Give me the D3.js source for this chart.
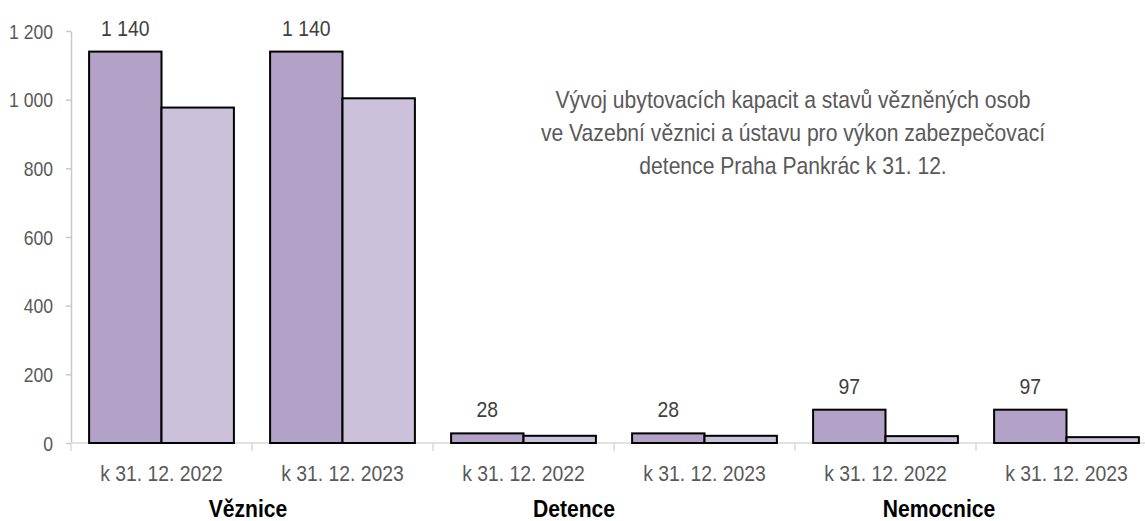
<!DOCTYPE html>
<html lang="cs">
<head>
  <meta charset="UTF-8">
  <title>Pankrác – kapacity</title>
  <script src="https://d3js.org/d3.v7.min.js"></script>
</head>
<body style="margin: 0; padding: 0; background: #ffffff;">
  <svg id="chart" width="1145" height="521"></svg>
  <script>
    // data
    const groups = ["Věznice", "Detence", "Nemocnice"];
    const periods = ["k 31. 12. 2022", "k 31. 12. 2023"];
    const capacity = [1140, 1140, 28, 28, 97, 97];
    const occupancy = [977, 1004, 21, 21, 20, 17];
    const yTicks = [0, 200, 400, 600, 800, 1000, 1200];
    const titleLines = [
      "Vývoj ubytovacích kapacit a stavů vězněných osob",
      "ve Vazební věznici a ústavu pro výkon zabezpečovací",
      "detence Praha Pankrác k 31. 12."
    ];

    const width = 1145, height = 521;
    const sx = 0.88;   // the source font is a little condensed
    const font = "'Liberation Sans', Arial, sans-serif";

    // one row per bar group
    const rows = [];
    groups.forEach((g, gi) => periods.forEach((p, pi) => {
      const i = gi * periods.length + pi;
      rows.push({ id: i, group: g, period: p, capacity: capacity[i], occupancy: occupancy[i] });
    }));

    const svg = d3.select("#chart");
    const locale = d3.formatLocale({ decimal: ",", thousands: " ", grouping: [3], currency: ["", ""] });
    const fmt = locale.format(",d");

    const x0 = d3.scaleBand().domain(rows.map(d => d.id)).range([71, 1157]).padding(0);
    const bw = x0.bandwidth();
    const x1 = d3.scaleBand().domain(["capacity", "occupancy"]).range([bw * 0.1, bw * 0.9]).padding(0);
    const y = d3.scaleLinear().domain([0, 1200]).range([443, 31]);
    const color = d3.scaleOrdinal().domain(["capacity", "occupancy"]).range(["#b3a2c7", "#ccc1da"]);

    // y axis
    const yAxis = svg.append("g")
      .attr("transform", "translate(71,0)")
      .call(d3.axisLeft(y).tickValues(yTicks).tickFormat(fmt).tickSize(5).tickSizeOuter(0));
    yAxis.select(".domain").attr("stroke", "#c9c9c9").attr("stroke-width", 1.5);
    yAxis.selectAll(".tick line").attr("stroke", "#c9c9c9").attr("stroke-width", 1.5);
    yAxis.selectAll(".tick text")
      .attr("x", null)
      .attr("dy", "0.36em")
      .attr("transform", `translate(-18,0) scale(${sx},1)`)
      .attr("fill", "#595959")
      .style("font-family", font)
      .style("font-size", "20px");

    // x axis line and category separators
    const xAxis = svg.append("g");
    xAxis.append("line")
      .attr("x1", x0.range()[0]).attr("x2", x0.range()[1])
      .attr("y1", y(0)).attr("y2", y(0))
      .attr("stroke", "#d9d9d9").attr("stroke-width", 1.5);
    const bounds = rows.map(d => x0(d.id)).concat([x0.range()[1]]);
    xAxis.selectAll("line.sep").data(bounds).enter().append("line")
      .attr("class", "sep")
      .attr("x1", d => d).attr("x2", d => d)
      .attr("y1", y(0)).attr("y2", y(0) + 8)
      .attr("stroke", "#d9d9d9").attr("stroke-width", 1.5);

    // bars
    const cat = svg.append("g").selectAll("g.cat").data(rows).enter().append("g")
      .attr("class", "cat")
      .attr("transform", d => `translate(${x0(d.id)},0)`);

    cat.selectAll("rect")
      .data(d => ["capacity", "occupancy"].map(k => ({ key: k, value: d[k] })))
      .enter().append("rect")
      .attr("x", d => x1(d.key))
      .attr("width", x1.bandwidth())
      .attr("y", d => y(d.value))
      .attr("height", d => y(0) - y(d.value))
      .attr("fill", d => color(d.key))
      .attr("stroke", "#000000")
      .attr("stroke-width", 2);

    // value labels on capacity bars
    cat.append("text")
      .attr("transform", d => `translate(${x1("capacity") + x1.bandwidth() / 2},${y(d.capacity) - 16}) scale(${sx},1)`)
      .attr("text-anchor", "middle")
      .attr("fill", "#404040")
      .style("font-family", font)
      .style("font-size", "22px")
      .text(d => fmt(d.capacity));

    // period labels
    cat.append("text")
      .attr("transform", `translate(${bw / 2},481) scale(${sx},1)`)
      .attr("text-anchor", "middle")
      .attr("fill", "#595959")
      .style("font-family", font)
      .style("font-size", "22px")
      .text(d => d.period);

    // group labels (Excel placed them slightly left of the group centre)
    const groupShift = [-4, -40, -37];
    svg.append("g").selectAll("text").data(groups).enter().append("text")
      .attr("transform", (g, i) => {
        const first = x0(i * periods.length);
        const last = x0(i * periods.length + periods.length - 1) + bw;
        return `translate(${(first + last) / 2 + groupShift[i]},517) scale(${sx},1)`;
      })
      .attr("text-anchor", "middle")
      .attr("fill", "#000000")
      .style("font-family", font)
      .style("font-size", "24px")
      .style("font-weight", "bold")
      .text(d => d);

    // title inside the plot
    svg.append("g").selectAll("text").data(titleLines).enter().append("text")
      .attr("transform", (d, i) => `translate(793,${108 + i * 33}) scale(${sx},1)`)
      .attr("text-anchor", "middle")
      .attr("fill", "#595959")
      .style("font-family", font)
      .style("font-size", "24px")
      .text(d => d);
  </script>
</body>
</html>
